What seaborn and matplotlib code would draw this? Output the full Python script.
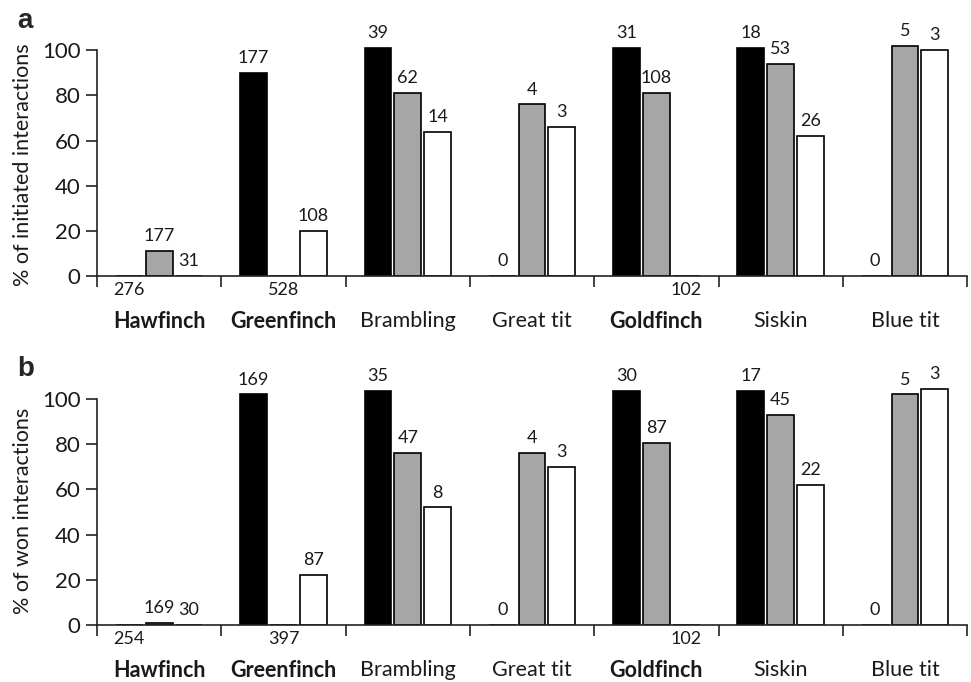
import matplotlib
matplotlib.use('Agg')
import matplotlib.pyplot as plt
import seaborn as sns
import pandas as pd
import numpy as np

# species groups on the x axis (bold = focal finch species)
species = ['Hawfinch', 'Greenfinch', 'Brambling', 'Great tit', 'Goldfinch', 'Siskin', 'Blue tit']
bold_species = ['Hawfinch', 'Greenfinch', 'Goldfinch']
opponents = ['vs Hawfinch', 'vs Greenfinch', 'vs Goldfinch']
bar_colors = ['black', '#a6a6a6', 'white']

# panel a: % of initiated interactions
init_vs_hawfinch = [0, 90, 101, 0, 101, 101, 0]
init_vs_greenfinch = [11, 0, 81, 76, 81, 94, 102]
init_vs_goldfinch = [0, 20, 64, 66, 0, 62, 100]
n_init_vs_hawfinch = ['276', '177', '39', '0', '31', '18', '0']
n_init_vs_greenfinch = ['177', '528', '62', '4', '108', '53', '5']
n_init_vs_goldfinch = ['31', '108', '14', '3', '102', '26', '3']

# panel b: % of won interactions
won_vs_hawfinch = [0, 102, 103.5, 0, 103.5, 103.5, 0]
won_vs_greenfinch = [1, 0, 76, 76, 80.5, 93, 102]
won_vs_goldfinch = [0, 22, 52, 70, 0, 62, 104.5]
n_won_vs_hawfinch = ['254', '169', '35', '0', '30', '17', '0']
n_won_vs_greenfinch = ['169', '397', '47', '4', '87', '45', '5']
n_won_vs_goldfinch = ['30', '87', '8', '3', '102', '22', '3']

sns.set_style('white')
plt.rcParams['font.family'] = ['Lato', 'DejaVu Sans']
text_col = '#1a1a1a'


def draw_panel(ax, values, counts, ylabel, letter, ylab_y):
    rows = []
    for opp, vals in zip(opponents, values):
        for sp, v in zip(species, vals):
            rows.append({'species': sp, 'opponent': opp, 'pct': v})
    df = pd.DataFrame(rows)

    sns.barplot(data=df, x='species', y='pct', hue='opponent', order=species,
                hue_order=opponents, palette=dict(zip(opponents, bar_colors)),
                width=0.72, gap=0.1, saturation=1, edgecolor='black',
                linewidth=1.2, errorbar=None, legend=False, ax=ax)

    # sample sizes; own-species counts go below the axis
    for j, cont in enumerate(ax.containers):
        for i, bar in enumerate(cont):
            x = bar.get_x() + bar.get_width() / 2
            if species[i] == bold_species[j]:
                ax.annotate(counts[j][i], (x, 0), xytext=(0, -4), textcoords='offset points',
                            ha='center', va='top', fontsize=13, color=text_col,
                            annotation_clip=False)
            else:
                ax.annotate(counts[j][i], (x, bar.get_height()), xytext=(0, 5),
                            textcoords='offset points', ha='center', va='bottom',
                            fontsize=13, color=text_col, annotation_clip=False)

    ax.set_xlim(-0.5, len(species) - 0.5)
    ax.set_ylim(0, 110)
    ax.set_yticks(range(0, 101, 20))
    ax.spines['top'].set_visible(False)
    ax.spines['right'].set_visible(False)
    ax.spines['left'].set_bounds(0, 100)
    for s in ['left', 'bottom']:
        ax.spines[s].set_color('#222222')
        ax.spines[s].set_linewidth(1.2)

    ax.set_xticks(np.arange(-0.5, len(species)), minor=True)
    ax.tick_params(axis='x', which='minor', direction='out', length=8, width=1.2,
                   color='#222222', bottom=True)
    ax.tick_params(axis='x', which='major', length=0, pad=25, labelsize=15.5,
                   labelcolor=text_col)
    ax.tick_params(axis='y', direction='out', length=8, width=1.2, color='#222222',
                   left=True, pad=4, labelsize=16, labelcolor=text_col)
    for lab in ax.get_xticklabels():
        if lab.get_text() in bold_species:
            lab.set_fontweight('bold')

    ax.set_xlabel('')
    ax.set_ylabel(ylabel, fontsize=15.5, color=text_col)
    ax.yaxis.set_label_coords(-0.073, ylab_y)
    ax.figure.text(0.018, ax.get_position().y1, letter, fontsize=20,
                   fontweight='bold', family='Liberation Sans', va='baseline', ha='left')


fig = plt.figure(figsize=(9.71, 6.82), dpi=100)
ax_a = fig.add_axes([0.0999, 0.595, 0.8961, 0.3645])
ax_b = fig.add_axes([0.0999, 0.0836, 0.8961, 0.3645])

draw_panel(ax_a, [init_vs_hawfinch, init_vs_greenfinch, init_vs_goldfinch],
           [n_init_vs_hawfinch, n_init_vs_greenfinch, n_init_vs_goldfinch],
           '% of initiated interactions', 'a', 0.45)
draw_panel(ax_b, [won_vs_hawfinch, won_vs_greenfinch, won_vs_goldfinch],
           [n_won_vs_hawfinch, n_won_vs_greenfinch, n_won_vs_goldfinch],
           '% of won interactions', 'b', 0.46)

fig.savefig('out.png', dpi=100)
